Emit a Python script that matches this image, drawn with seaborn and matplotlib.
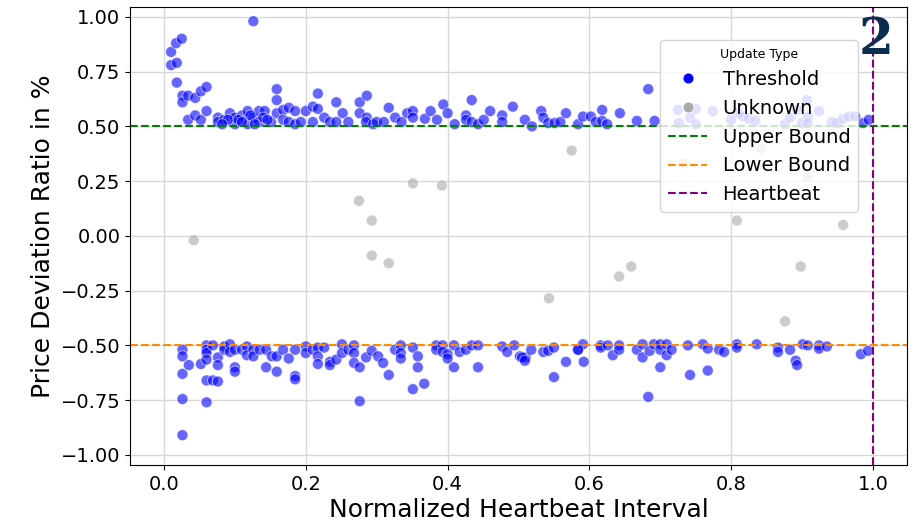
import matplotlib
matplotlib.use("Agg")
import matplotlib.pyplot as plt
import seaborn as sns
import pandas as pd

# ---- data ----
upper_x = [0.010, 0.017, 0.025, 0.010, 0.018, 0.018, 0.026, 0.026, 0.034, 0.044, 0.052, 0.060,
           0.034, 0.044, 0.052, 0.060, 0.126,
           0.076, 0.076, 0.085, 0.093, 0.100, 0.100, 0.110, 0.118, 0.118, 0.126, 0.134, 0.134,
           0.142, 0.151, 0.159, 0.159, 0.159, 0.168, 0.168, 0.176, 0.176, 0.185, 0.185, 0.193,
           0.200, 0.210, 0.210, 0.217, 0.217, 0.226, 0.234, 0.243, 0.243,
           0.252, 0.260, 0.276, 0.286, 0.276, 0.286, 0.285, 0.295, 0.300, 0.310, 0.317, 0.326,
           0.335, 0.343, 0.351, 0.351, 0.368, 0.376, 0.385, 0.394, 0.400, 0.410, 0.426, 0.426,
           0.434, 0.434, 0.443, 0.451, 0.460, 0.477, 0.477, 0.492, 0.509,
           0.519, 0.532, 0.535, 0.542, 0.551, 0.559, 0.567, 0.584, 0.591, 0.602, 0.609, 0.618,
           0.618, 0.625, 0.643, 0.667, 0.683, 0.692, 0.725, 0.742, 0.750, 0.726, 0.750,
           0.774, 0.800, 0.810, 0.817, 0.825, 0.834, 0.876, 0.883, 0.893, 0.900, 0.907, 0.908,
           0.908, 0.924, 0.942, 0.949, 0.958, 0.966, 0.975, 0.986, 0.994,
           0.090, 0.105, 0.122, 0.140, 0.110, 0.128, 0.082, 0.146]
upper_y = [0.84, 0.88, 0.90, 0.78, 0.79, 0.70, 0.64, 0.61, 0.64, 0.63, 0.66, 0.68,
           0.53, 0.55, 0.53, 0.57, 0.98,
           0.54, 0.52, 0.53, 0.56, 0.51, 0.54, 0.55, 0.57, 0.51, 0.54, 0.57, 0.52,
           0.57, 0.52, 0.67, 0.62, 0.56, 0.575, 0.53, 0.585, 0.52, 0.57, 0.51, 0.52,
           0.57, 0.59, 0.52, 0.65, 0.58, 0.54, 0.52, 0.61, 0.52,
           0.56, 0.52, 0.61, 0.64, 0.56, 0.54, 0.52, 0.51, 0.52, 0.52, 0.585, 0.54,
           0.52, 0.56, 0.57, 0.54, 0.535, 0.57, 0.53, 0.60, 0.56, 0.51, 0.55, 0.53,
           0.62, 0.52, 0.51, 0.53, 0.57, 0.55, 0.52, 0.59, 0.53,
           0.50, 0.57, 0.54, 0.515, 0.515, 0.52, 0.56, 0.51, 0.545, 0.545, 0.52, 0.575,
           0.525, 0.51, 0.56, 0.525, 0.67, 0.525, 0.575, 0.54, 0.58, 0.515, 0.51,
           0.57, 0.53, 0.56, 0.545, 0.535, 0.525, 0.51, 0.54, 0.575, 0.515, 0.62, 0.545,
           0.515, 0.57, 0.52, 0.515, 0.535, 0.545, 0.545, 0.515, 0.53,
           0.53, 0.53, 0.55, 0.54, 0.52, 0.51, 0.51, 0.53]

lower_x = [0.026, 0.026, 0.026, 0.026, 0.026, 0.035, 0.052, 0.060, 0.060, 0.060, 0.060, 0.060,
           0.060, 0.069, 0.069, 0.076, 0.076, 0.076, 0.085, 0.085, 0.093, 0.093, 0.100, 0.100,
           0.100, 0.110, 0.117, 0.117, 0.126, 0.126, 0.135, 0.144, 0.144, 0.152, 0.159, 0.159,
           0.168, 0.176, 0.185, 0.185, 0.185, 0.200, 0.200, 0.210, 0.217, 0.217, 0.217, 0.226,
           0.234, 0.234, 0.243, 0.251, 0.251, 0.260, 0.268, 0.268, 0.268, 0.276, 0.276, 0.285,
           0.293, 0.302, 0.309, 0.317, 0.326, 0.334, 0.334, 0.334, 0.351, 0.351, 0.358, 0.358,
           0.367, 0.384, 0.384, 0.393, 0.393, 0.400, 0.400, 0.409, 0.409, 0.417, 0.426, 0.434,
           0.443, 0.443, 0.477, 0.484, 0.494, 0.502, 0.510,
           0.505, 0.509, 0.518, 0.535, 0.542, 0.550, 0.550, 0.567, 0.584, 0.591, 0.584, 0.592,
           0.616, 0.616, 0.626, 0.633, 0.642, 0.642, 0.667, 0.675, 0.675, 0.683, 0.685, 0.691,
           0.700, 0.700, 0.700, 0.709, 0.709, 0.716, 0.739, 0.742, 0.760, 0.767, 0.767, 0.783,
           0.790, 0.808, 0.808, 0.836, 0.866, 0.866, 0.883, 0.891, 0.893, 0.901, 0.908, 0.924,
           0.924, 0.935, 0.983, 0.993]
lower_y = [-0.52, -0.55, -0.63, -0.745, -0.91, -0.59, -0.585, -0.50, -0.52, -0.535, -0.565, -0.66,
           -0.76, -0.50, -0.66, -0.555, -0.59, -0.665, -0.505, -0.52, -0.495, -0.53, -0.52, -0.60,
           -0.62, -0.52, -0.505, -0.545, -0.52, -0.55, -0.52, -0.52, -0.60, -0.55, -0.55, -0.62,
           -0.52, -0.56, -0.52, -0.64, -0.655, -0.505, -0.535, -0.52, -0.51, -0.55, -0.585, -0.51,
           -0.575, -0.59, -0.565, -0.495, -0.535, -0.52, -0.50, -0.535, -0.58, -0.60, -0.755, -0.555,
           -0.525, -0.55, -0.58, -0.635, -0.52, -0.50, -0.535, -0.56, -0.51, -0.70, -0.55, -0.60,
           -0.675, -0.50, -0.52, -0.50, -0.53, -0.54, -0.56, -0.50, -0.60, -0.53, -0.52, -0.50,
           -0.50, -0.60, -0.505, -0.53, -0.50, -0.55, -0.555,
           -0.555, -0.57, -0.52, -0.53, -0.525, -0.51, -0.645, -0.575, -0.52, -0.495, -0.52, -0.575,
           -0.50, -0.51, -0.50, -0.545, -0.50, -0.52, -0.52, -0.495, -0.555, -0.735, -0.525, -0.495,
           -0.495, -0.52, -0.60, -0.495, -0.545, -0.52, -0.50, -0.635, -0.495, -0.515, -0.615, -0.52,
           -0.53, -0.495, -0.51, -0.495, -0.51, -0.53, -0.52, -0.57, -0.59, -0.495, -0.50, -0.50,
           -0.515, -0.505, -0.54, -0.525]

unknown_x = [0.042, 0.275, 0.293, 0.293, 0.317, 0.351, 0.392, 0.543, 0.575, 0.642, 0.659,
             0.733, 0.808, 0.842, 0.876, 0.898, 0.908, 0.958]
unknown_y = [-0.02, 0.16, 0.07, -0.09, -0.125, 0.24, 0.23, -0.285, 0.39, -0.185, -0.14,
             0.33, 0.07, 0.40, -0.39, -0.14, 0.27, 0.05]

upper_bound = 0.5
lower_bound = -0.5
heartbeat = 1.0

df = pd.DataFrame({
    "x": upper_x + lower_x + unknown_x,
    "y": upper_y + lower_y + unknown_y,
    "Update Type": ["Threshold"] * (len(upper_x) + len(lower_x)) + ["Unknown"] * len(unknown_x),
})

fig = plt.figure(figsize=(9.18, 5.23), dpi=100)
ax = fig.add_axes([0.1416, 0.111, 0.8464, 0.876])

sns.scatterplot(data=df, x="x", y="y", hue="Update Type",
                palette={"Threshold": "blue", "Unknown": "darkgray"},
                hue_order=["Threshold", "Unknown"],
                s=62, alpha=0.6, edgecolor="white", linewidth=0.6, ax=ax)

ax.axhline(upper_bound, color="green", linestyle="--", linewidth=1.5, label="Upper Bound")
ax.axhline(lower_bound, color="darkorange", linestyle="--", linewidth=1.5, label="Lower Bound")
ax.axvline(heartbeat, color="purple", linestyle="--", linewidth=1.5, label="Heartbeat")

ax.set_xlim(-0.048, 1.048)
ax.set_ylim(-1.046, 1.046)
ax.set_xticks([0.0, 0.2, 0.4, 0.6, 0.8, 1.0])
ax.set_yticks([-1.0, -0.75, -0.5, -0.25, 0.0, 0.25, 0.5, 0.75, 1.0])
ax.set_yticklabels(["\u22121.00", "\u22120.75", "\u22120.50", "\u22120.25", "0.00",
                    "0.25", "0.50", "0.75", "1.00"])
ax.tick_params(labelsize=14)
ax.set_xlabel("Normalized Heartbeat Interval", fontsize=18, labelpad=3)
ax.set_ylabel("Price Deviation Ratio in %", fontsize=18, labelpad=4)
ax.grid(True, color="#d8d8d8", linewidth=1)
ax.set_axisbelow(True)

handles, labels = ax.get_legend_handles_labels()
leg = ax.legend(handles, labels, title="Update Type", fontsize=14, title_fontsize=9,
                loc="upper right", bbox_to_anchor=(0.937, 0.928), borderaxespad=0)
for h in leg.legend_handles:
    try:
        h.set_alpha(1)
    except Exception:
        pass

fig.text(0.954, 0.922, "2", fontsize=36, fontweight="heavy", family="DejaVu Serif",
         color="#0b2e4f", ha="center", va="center")

fig.savefig("out.png", dpi=100)
